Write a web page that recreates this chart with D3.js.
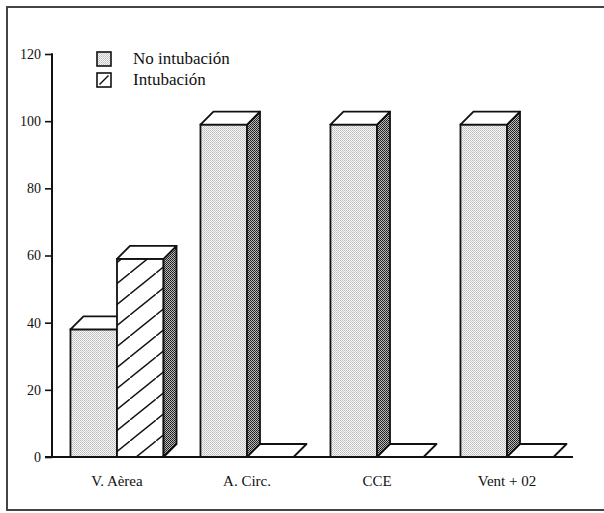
<!DOCTYPE html>
<html>
<head>
<meta charset="utf-8">
<script src="https://cdn.jsdelivr.net/npm/d3@7"></script>
<style>
  html, body { margin: 0; padding: 0; background: #fff; }
  svg { display: block; }
</style>
</head>
<body>
<svg id="chart" width="604" height="513"></svg>
<script>
// Data
const categories = ["V. Aèrea", "A. Circ.", "CCE", "Vent + 02"];
const seriesNames = ["No intubación", "Intubación"];
const noIntubacion = [38, 99, 99, 99];
const intubacion = [59, 0, 0, 0];
const yTicks = [0, 20, 40, 60, 80, 100, 120];

const svg = d3.select("#chart");
const depth = 13;
const serif = "Liberation Serif";

// Patterns: light stipple, dark stipple, diagonal hatch
const defs = svg.append("defs");
const light = defs.append("pattern").attr("id", "stippleLight")
  .attr("patternUnits", "userSpaceOnUse").attr("width", 2).attr("height", 2);
light.append("rect").attr("width", 2).attr("height", 2).attr("fill", "#f7f7f7");
light.append("rect").attr("width", 1).attr("height", 1).attr("fill", "#bdbdbd");
light.append("rect").attr("x", 1).attr("y", 1).attr("width", 1).attr("height", 1).attr("fill", "#c8c8c8");

const dark = defs.append("pattern").attr("id", "stippleDark")
  .attr("patternUnits", "userSpaceOnUse").attr("width", 2).attr("height", 2);
dark.append("rect").attr("width", 2).attr("height", 2).attr("fill", "#bcbcbc");
dark.append("rect").attr("width", 1).attr("height", 1).attr("fill", "#1a1a1a");
dark.append("rect").attr("x", 1).attr("y", 1).attr("width", 1).attr("height", 1).attr("fill", "#2a2a2a");

const hatch = defs.append("pattern").attr("id", "hatch")
  .attr("patternUnits", "userSpaceOnUse").attr("width", 26).attr("height", 21);
hatch.append("rect").attr("width", 26).attr("height", 21).attr("fill", "#fff");
hatch.append("line").attr("x1", -2).attr("y1", 21 + 21 * 2 / 26).attr("x2", 28).attr("y2", -21 * 2 / 26)
  .attr("stroke", "#111").attr("stroke-width", 1.4);

// Outer frame
svg.append("path")
  .attr("d", `M610,7 H7 V510 H610`)
  .attr("fill", "none").attr("stroke", "#444").attr("stroke-width", 2);

// Scales
const x0 = d3.scaleBand().domain(categories).range([52, 572]).padding(0);
const x1 = d3.scaleBand().domain(seriesNames)
  .range([x0.bandwidth() * 0.142, x0.bandwidth() * 0.858]).padding(0);
const y = d3.scaleLinear().domain([0, 120]).range([457, 54]);

const frontFill = { "No intubación": "url(#stippleLight)", "Intubación": "url(#hatch)" };

const bars = [];
categories.forEach((c, i) => {
  bars.push({ cat: c, series: "No intubación", value: noIntubacion[i] });
  bars.push({ cat: c, series: "Intubación", value: intubacion[i] });
});

const g = svg.append("g");
const base = y(0);

bars.forEach(b => {
  const xl = x0(b.cat) + x1(b.series);
  const xr = xl + x1.bandwidth();
  const yt = y(b.value);
  const bar = g.append("g");
  if (b.value > 0) {
    // front face
    bar.append("rect").attr("x", xl).attr("y", yt).attr("width", xr - xl).attr("height", base - yt)
      .attr("fill", frontFill[b.series]).attr("stroke", "#111").attr("stroke-width", 1.8);
    // side face
    bar.append("path")
      .attr("d", `M${xr},${yt} L${xr + depth},${yt - depth} L${xr + depth},${base - depth} L${xr},${base} Z`)
      .attr("fill", "url(#stippleDark)").attr("stroke", "#111").attr("stroke-width", 1.8)
      .attr("stroke-linejoin", "round");
  }
  // top face
  bar.append("path")
    .attr("d", `M${xl},${yt} L${xl + depth},${yt - depth} L${xr + depth},${yt - depth} L${xr},${yt} Z`)
    .attr("fill", "#fff").attr("stroke", "#111").attr("stroke-width", 1.8)
    .attr("stroke-linejoin", "round");
});

// Y axis
const yAxis = d3.axisLeft(y).tickValues(yTicks).tickSize(7).tickPadding(4).tickFormat(d3.format("d"));
const ya = svg.append("g").attr("transform", "translate(52,0)").call(yAxis)
  .attr("font-family", serif).attr("font-size", 14);
ya.select(".domain").remove();
ya.selectAll(".tick line").attr("stroke", "#111").attr("stroke-width", 1.6);
ya.selectAll(".tick text").attr("fill", "#111");
svg.append("line").attr("x1", 52).attr("x2", 52).attr("y1", y(120) - 0.8).attr("y2", base + 1)
  .attr("stroke", "#111").attr("stroke-width", 2);

// X axis baseline and labels
svg.append("line").attr("x1", 45).attr("x2", 573).attr("y1", base).attr("y2", base)
  .attr("stroke", "#111").attr("stroke-width", 2);
const xAxis = d3.axisBottom(x0).tickSize(0).tickPadding(0);
const xa = svg.append("g").attr("transform", `translate(0,${base})`).call(xAxis)
  .attr("font-family", serif).attr("font-size", 15);
xa.select(".domain").remove();
xa.selectAll(".tick text").attr("fill", "#111").attr("dy", null).attr("y", 29);

// Legend
const legend = svg.append("g").attr("font-family", serif);
seriesNames.forEach((s, i) => {
  const ly = 52 + i * 21;
  const item = legend.append("g").attr("transform", `translate(97,${ly})`);
  item.append("rect").attr("width", 14).attr("height", 14)
    .attr("fill", i === 0 ? "url(#stippleLight)" : "#fff")
    .attr("stroke", "#111").attr("stroke-width", 1.6);
  if (i === 1) {
    item.append("line").attr("x1", 2.5).attr("y1", 11.5).attr("x2", 11.5).attr("y2", 2.5)
      .attr("stroke", "#111").attr("stroke-width", 1.4);
  }
  item.append("text").attr("x", 36).attr("y", 12).attr("font-size", 17).attr("fill", "#111").text(s);
});
</script>
</body>
</html>
